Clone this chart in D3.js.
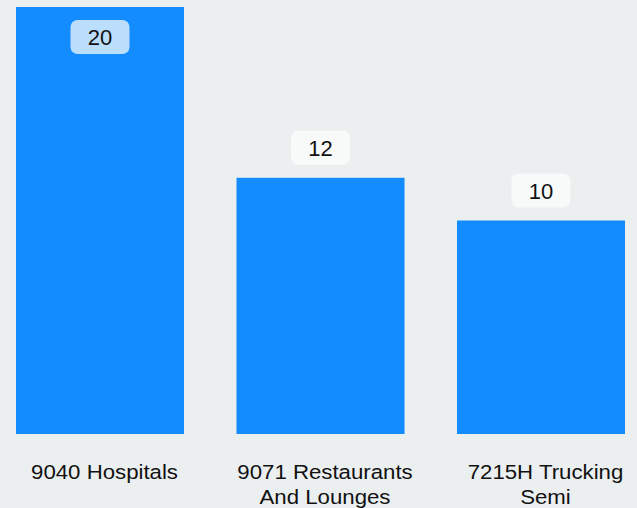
<!DOCTYPE html>
<html>
<head>
<meta charset="utf-8">
<script src="https://cdn.jsdelivr.net/npm/d3@7"></script>
<style>
  html, body { margin: 0; padding: 0; background: #eceff0; }
  svg { display: block; font-family: "Liberation Sans", Arial, sans-serif; }
</style>
</head>
<body>
<div id="chart"></div>
<script>
// chart data
const categories = ["9040 Hospitals", "9071 Restaurants And Lounges", "7215H Trucking Semi"];
const labelLines = [["9040 Hospitals"], ["9071 Restaurants", "And Lounges"], ["7215H Trucking", "Semi"]];
const values = [20, 12, 10];

const width = 637;
const height = 508;
const margin = { top: 7, right: 12, bottom: 74, left: 16 };

const svg = d3
  .select("#chart")
  .append("svg")
  .attr("width", width)
  .attr("height", height);

svg.append("rect").attr("width", width).attr("height", height).attr("fill", "#eceff0");

// scales
const xScale = d3
  .scaleBand()
  .domain(categories)
  .range([margin.left, width - margin.right])
  .paddingInner(0.238)
  .paddingOuter(0);

const yScale = d3
  .scaleLinear()
  .domain([0, d3.max(values)])
  .range([height - margin.bottom, margin.top]);

const data = categories.map((c, i) => ({ name: c, value: values[i], lines: labelLines[i] }));

// bars
svg
  .selectAll(".bar")
  .data(data)
  .enter()
  .append("rect")
  .attr("class", "bar")
  .attr("x", (d) => xScale(d.name))
  .attr("y", (d) => yScale(d.value))
  .attr("width", xScale.bandwidth())
  .attr("height", (d) => yScale(0) - yScale(d.value))
  .attr("fill", "#138cff");

// value labels: boxed, put inside the bar when there is no room above
const boxW = 59, boxH = 34, gap = 13;
const labels = svg.selectAll(".vlabel").data(data).enter().append("g").attr("class", "vlabel");

labels.each(function (d) {
  const g = d3.select(this);
  const cx = xScale(d.name) + xScale.bandwidth() / 2;
  const top = yScale(d.value);
  const inside = top - gap - boxH < 0;
  const by = inside ? top + gap : top - gap - boxH;
  g.append("rect")
    .attr("x", cx - boxW / 2)
    .attr("y", by)
    .attr("width", boxW)
    .attr("height", boxH)
    .attr("rx", 7)
    .attr("fill", inside ? "#bbdefc" : "#f8f9f9");
  g.append("text")
    .attr("x", cx)
    .attr("y", by + boxH / 2 + 8)
    .attr("text-anchor", "middle")
    .attr("font-size", "22px")
    .attr("fill", "#111")
    .text(d.value);
});

// category labels (a bit wide in the original, so stretched horizontally)
const catLabels = svg
  .selectAll(".cat")
  .data(data)
  .enter()
  .append("text")
  .attr("class", "cat")
  .attr("text-anchor", "middle")
  .attr("font-size", "19.5px")
  .attr("fill", "#111")
  .attr("transform", (d) =>
    `translate(${xScale(d.name) + xScale.bandwidth() / 2 + 4.5}, ${height - margin.bottom + 44.5}) scale(1.14, 1)`
  );

catLabels
  .selectAll("tspan")
  .data((d) => d.lines)
  .enter()
  .append("tspan")
  .attr("x", 0)
  .attr("dy", (t, i) => (i === 0 ? 0 : 25.5))
  .text((t) => t);
</script>
</body>
</html>
